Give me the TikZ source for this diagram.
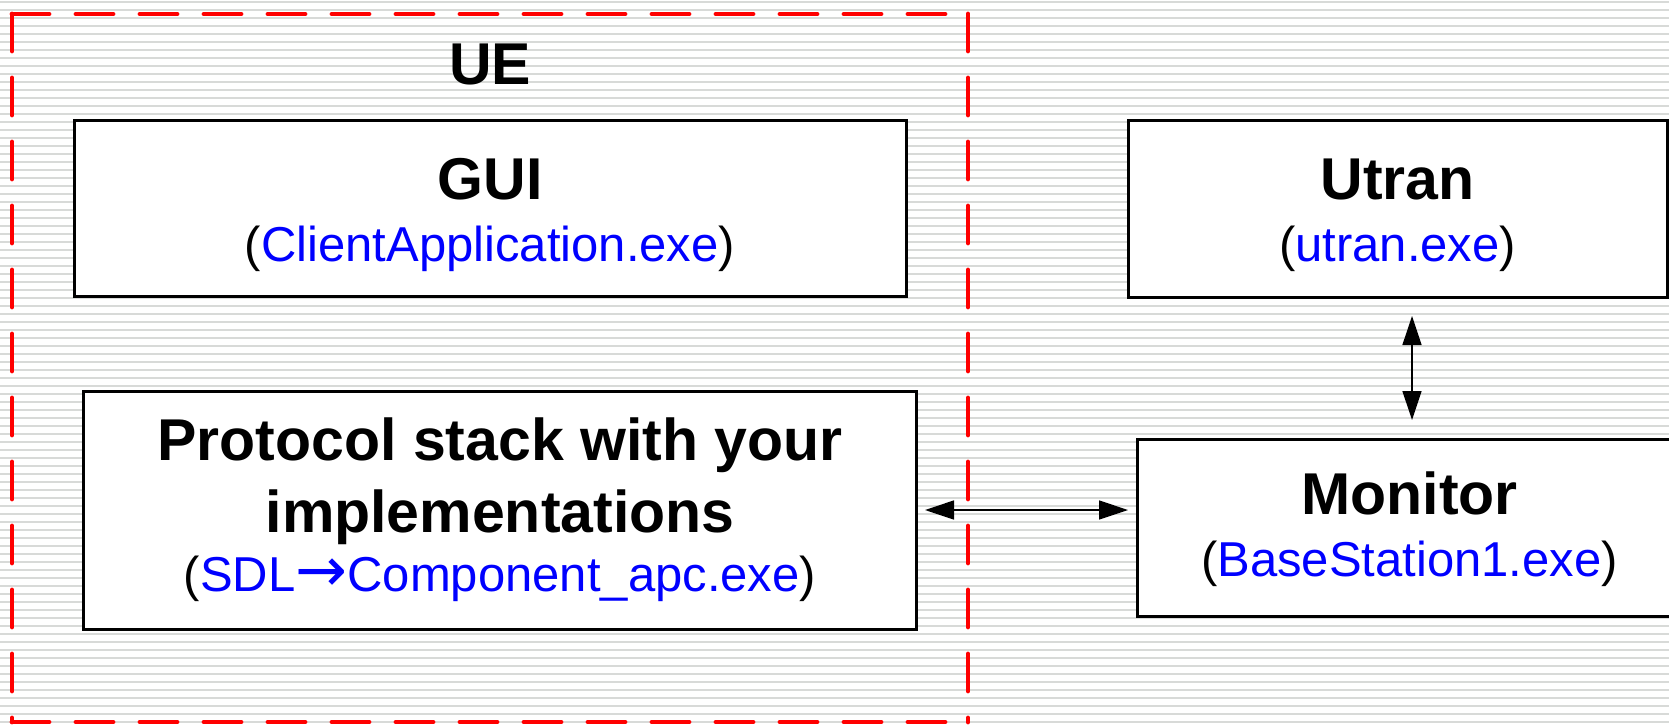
\documentclass[tikz,border=0pt]{standalone}
\usepackage{fontspec}
\setmainfont{Liberation Sans}
\newfontfamily\arrowfont{DejaVu Sans}
\usetikzlibrary{arrows.meta}
\definecolor{stripe}{RGB}{216,218,216}
\definecolor{uered}{RGB}{255,0,0}
\definecolor{exeblue}{RGB}{0,0,255}
\tikzset{
  box/.style={draw=black, line width=1.5pt, fill=white, rectangle, inner sep=0pt, outer sep=0pt},
  titletext/.style={anchor=base, inner sep=0pt, font=\fontsize{29.5}{35}\selectfont\bfseries},
  exetext/.style={anchor=base, inner sep=0pt, font=\fontsize{24.5}{30}\selectfont},
  dbl/.style={line width=0.75pt, {Triangle[length=14.5pt,width=9.5pt]}-{Triangle[length=14.5pt,width=9.5pt]}},
  uedash/.style={draw=uered, line width=2.4pt, line cap=round, dash pattern=on 18.5pt off 13.5pt}
}
\newcommand{\exe}[1]{(\textcolor{exeblue}{#1})}
\begin{document}
\begin{tikzpicture}[x=0.5pt,y=-0.5pt]
\useasboundingbox (0,0) rectangle (1669,725);
\fill[white] (0,0) rectangle (1669,725);
\foreach \k in {0,...,90} {
  \draw[stripe, line width=1pt] (0,{2+8*\k}) -- (1669,{2+8*\k});
}
% UE container
\draw[uedash] (12,14) -- (968,14);
\draw[uedash] (12,14) -- (12,722);
\draw[uedash] (12,722) -- (968,722);
\draw[uedash] (968,14) -- (968,722);
\node[titletext] (uet) at (490,84) {UE};
% boxes
\node[box, minimum width=416pt, minimum height=88pt] (gui) at (490,208.5) {};
\node[box, minimum width=416.5pt, minimum height=119pt] (proto) at (499.5,510) {};
\node[box, minimum width=269.5pt, minimum height=88.5pt] (utran) at (1397.5,208.5) {};
\node[box, minimum width=272.5pt, minimum height=88.5pt] (mon) at (1409.5,527.5) {};
% texts
\node[titletext] (guit) at (490,199) {GUI};
\node[exetext] (guie) at (490,261) {\exe{ClientApplication.exe}};
\node[titletext] (utrant) at (1397.5,199) {Utran};
\node[exetext] (utrane) at (1397.5,261) {\exe{utran.exe}};
\node[titletext] (protot1) at (500,460) {Protocol stack with your};
\node[titletext] (protot2) at (500,532) {implementations};
\node[exetext] (protoe) at (500,591) {\exe{SDL{\arrowfont\fontsize{31}{31}\selectfont→}Component\_apc.exe}};
\node[titletext] (mont) at (1409.5,514) {Monitor};
\node[exetext] (mone) at (1409.5,576) {\exe{BaseStation1.exe}};
% connectors
\coordinate (vx) at (1412,0);
\draw[dbl] ([xshift=4.5pt]proto.east) -- ([xshift=-4.5pt]proto.east -| mon.west);
\draw[dbl] ([yshift=-9.5pt]utran.south -| vx) -- ([yshift=9.5pt]mon.north -| vx);
\end{tikzpicture}
\end{document}
